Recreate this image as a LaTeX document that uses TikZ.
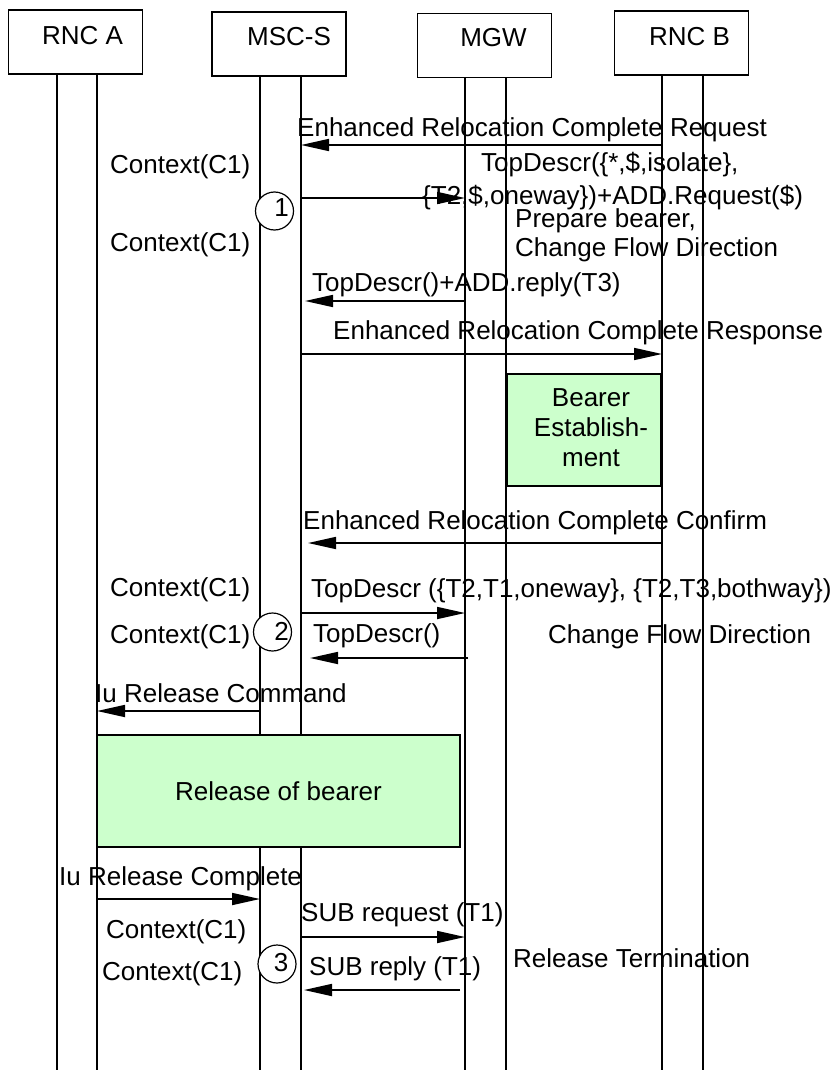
\documentclass[tikz,border=0pt]{standalone}
\usepackage{fontspec}
\setmainfont{Liberation Sans}
\usepackage{tikz}
\usetikzlibrary{arrows.meta}
\definecolor{bearergreen}{HTML}{CCFFCC}

\begin{document}
\begin{tikzpicture}[x=1pt,y=-1pt,font=\fontsize{26}{30}\selectfont,
ent/.style={draw,line width=1.5pt,minimum width=134pt,minimum height=64pt,inner sep=0pt},
life/.style={line width=1.3pt},
msg/.style={-{Triangle[length=28pt,width=12pt]},line width=1.7pt},
txt/.style={anchor=base west,inner sep=0pt},
proc/.style={draw,line width=1.5pt,fill=bearergreen,inner sep=0pt},
num/.style={draw,circle,fill=white,line width=1.2pt,minimum size=38pt,inner sep=0pt}]
\useasboundingbox (0,0) rectangle (836,1070);
\node[ent,label={[shift={(7,-6)}]center:RNC A}] at (75.5,42)(rnca){};
\node[ent,label={[shift={(10,-7)}]center:MSC-S}] at (279,44)(msc){};
\node[ent,label={[shift={(9,-8)}]center:MGW}] at (484.5,45.5)(mgw){};
\node[ent,label={[shift={(8,-6)}]center:RNC B}] at (681.5,43)(rncb){};
\foreach \n/\x in {a1/57,a2/97,s1/260,s2/301,g1/465,g2/506,b1/662,b2/703} \coordinate (\n) at (\x,1070);
\draw[life](rnca.south-|a1)--(a1);\draw[life](rnca.south-|a2)--(a2);
\draw[life](msc.south-|s1)--(s1);\draw[life](msc.south-|s2)--(s2);
\draw[life](mgw.south-|g1)--(g1);\draw[life](mgw.south-|g2)--(g2);
\draw[life](rncb.south-|b1)--(b1);\draw[life](rncb.south-|b2)--(b2);
\foreach \n/\y in {m1/145,m2/198,m3/301,m4/354,m5/543,m6/613,m7/658,m8/711,m9/899,m10/937,m11/990} \coordinate (\n) at (0,\y);
\node[proc,minimum width=154pt,minimum height=112pt,label={[align=center,shift={(7,-2)}]center:Bearer\\Establish-\\ment}] at (584,430)(estab){};
\node[proc,minimum width=363pt,minimum height=112pt] at (278.5,791)(relb){Release of bearer};
\node[num,label={[shift={(7,-3)}]center:1}] at (274.5,211)(n1){};
\node[num,label={[shift={(9,-1)}]center:2}] at (272.5,632)(n2){};
\node[num,label={[shift={(4,-1)}]center:3}] at (277,964)(n3){};
\node[txt] at (297,136)(erreq){Enhanced Relocation Complete Request};
\node[txt] at (110,173)(ctxa){Context(C1)};
\node[txt] at (481,171)(topa){TopDescr(\{*,\$,isolate\},};
\node[txt] at (422,204)(topb){\{T2,\$,oneway\})+ADD.Request(\$)};
\node[txt] at (515,227)(prep){Prepare bearer,};
\node[txt] at (110,251)(ctxb){Context(C1)};
\node[txt] at (515,256)(cfda){Change Flow Direction};
\node[txt] at (312,291)(addrep){TopDescr()+ADD.reply(T3)};
\node[txt] at (333,339)(erresp){Enhanced Relocation Complete Response};
\node[txt] at (303,529)(erconf){Enhanced Relocation Complete Confirm};
\node[txt] at (110,596)(ctxc){Context(C1)};
\node[txt] at (311,597)(topc){TopDescr (\{T2,T1,oneway\}, \{T2,T3,bothway\})};
\node[txt] at (110,643)(ctxd){Context(C1)};
\node[txt] at (313,642)(topd){TopDescr()};
\node[txt] at (548,643)(cfdb){Change Flow Direction};
\node[txt] at (95,702)(iurc){Iu Release Command};
\node[txt] at (59,885)(iurcp){Iu Release Complete};
\node[txt] at (301,921)(subrq){SUB request (T1)};
\node[txt] at (106,938)(ctxe){Context(C1)};
\node[txt] at (102,980)(ctxf){Context(C1)};
\node[txt] at (309,975)(subrp){SUB reply (T1)};
\node[txt] at (513,967)(reltm){Release Termination};
\draw[msg](b1|-m1)--(s2|-m1);\draw[msg](s2|-m2)--(g1|-m2);
\draw[msg,shorten >=4pt](g1|-m3)--(s2|-m3);\draw[msg](s2|-m4)--(b1|-m4);
\draw[msg,shorten >=7pt](b1|-m5)--(s2|-m5);\draw[msg](s2|-m6)--(g1|-m6);
\draw[msg,shorten <=-3pt,shorten >=9pt](g1|-m7)--(s2|-m7);
\draw[msg](s1|-m8)--(a2|-m8);\draw[msg](a2|-m9)--(s1|-m9);
\draw[msg](s2|-m10)--(g1|-m10);\draw[msg,shorten <=5pt,shorten >=3pt](g1|-m11)--(s2|-m11);
\end{tikzpicture}
\end{document}
